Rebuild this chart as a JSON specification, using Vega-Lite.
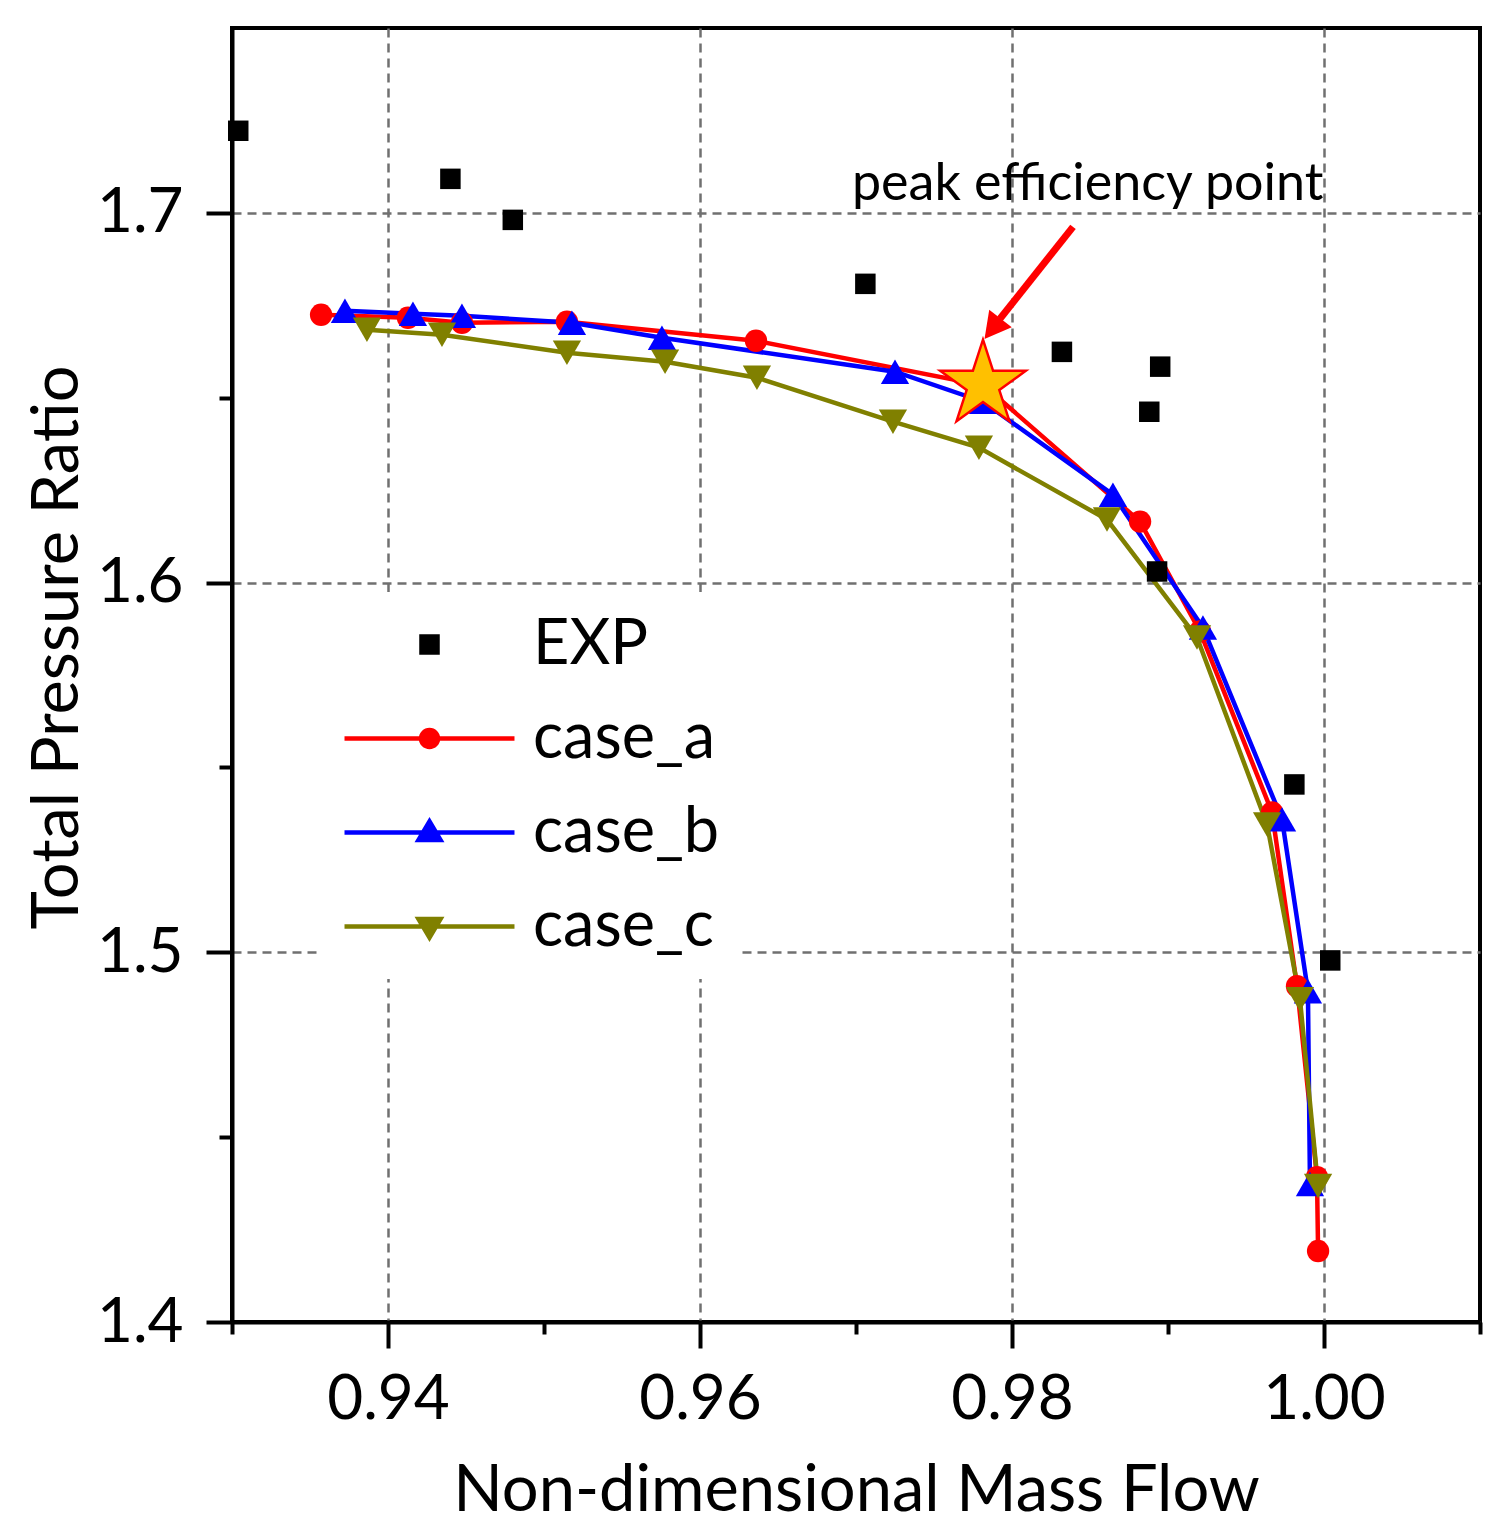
{
  "$schema": "https://vega.github.io/schema/vega-lite/v6.json",
  "width": 1248,
  "height": 1294,
  "autosize": {"type": "none"},
  "padding": {"left": 232, "top": 28, "right": 31, "bottom": 216},
  "background": "white",
  "datasets": {
    "curves": [
      {"series": "EXP", "x": 0.9304, "y": 1.7222},
      {"series": "EXP", "x": 0.944, "y": 1.7092},
      {"series": "EXP", "x": 0.948, "y": 1.6981},
      {"series": "EXP", "x": 0.9706, "y": 1.6808},
      {"series": "EXP", "x": 0.9832, "y": 1.6624},
      {"series": "EXP", "x": 0.9895, "y": 1.6584},
      {"series": "EXP", "x": 0.9888, "y": 1.6462},
      {"series": "EXP", "x": 0.9893, "y": 1.603},
      {"series": "EXP", "x": 0.9981, "y": 1.5454},
      {"series": "EXP", "x": 1.0004, "y": 1.4978},
      {"series": "case_a", "x": 0.93571, "y": 1.67243},
      {"series": "case_a", "x": 0.94128, "y": 1.67162},
      {"series": "case_a", "x": 0.94474, "y": 1.67027},
      {"series": "case_a", "x": 0.95147, "y": 1.67054},
      {"series": "case_a", "x": 0.96359, "y": 1.66541},
      {"series": "case_a", "x": 0.97821, "y": 1.6533},
      {"series": "case_a", "x": 0.98821, "y": 1.61649},
      {"series": "case_a", "x": 0.99205, "y": 1.58676},
      {"series": "case_a", "x": 0.99667, "y": 1.53784},
      {"series": "case_a", "x": 0.99827, "y": 1.49081},
      {"series": "case_a", "x": 0.99955, "y": 1.43919},
      {"series": "case_a", "x": 0.99962, "y": 1.41919},
      {"series": "case_b", "x": 0.93724, "y": 1.67351},
      {"series": "case_b", "x": 0.9416, "y": 1.6727},
      {"series": "case_b", "x": 0.94474, "y": 1.67216},
      {"series": "case_b", "x": 0.95179, "y": 1.67027},
      {"series": "case_b", "x": 0.95756, "y": 1.66622},
      {"series": "case_b", "x": 0.9725, "y": 1.65703},
      {"series": "case_b", "x": 0.97814, "y": 1.64892},
      {"series": "case_b", "x": 0.98647, "y": 1.62378},
      {"series": "case_b", "x": 0.99224, "y": 1.58784},
      {"series": "case_b", "x": 0.99731, "y": 1.53595},
      {"series": "case_b", "x": 0.99897, "y": 1.48946},
      {"series": "case_b", "x": 0.9991, "y": 1.4373},
      {"series": "case_c", "x": 0.93865, "y": 1.66838},
      {"series": "case_c", "x": 0.94346, "y": 1.66703},
      {"series": "case_c", "x": 0.95147, "y": 1.66216},
      {"series": "case_c", "x": 0.95776, "y": 1.65973},
      {"series": "case_c", "x": 0.96365, "y": 1.65541},
      {"series": "case_c", "x": 0.97237, "y": 1.64351},
      {"series": "case_c", "x": 0.97788, "y": 1.63649},
      {"series": "case_c", "x": 0.98609, "y": 1.61703},
      {"series": "case_c", "x": 0.99186, "y": 1.58514},
      {"series": "case_c", "x": 0.99635, "y": 1.53459},
      {"series": "case_c", "x": 0.99846, "y": 1.4873},
      {"series": "case_c", "x": 0.99962, "y": 1.43676}
    ]
  },
  "encoding": {
    "x": {
      "field": "x",
      "type": "quantitative",
      "scale": {"domain": [0.93, 1.01], "nice": false, "zero": false},
      "axis": {
        "title": "Non-dimensional Mass Flow",
        "values": [0.93, 0.94, 0.95, 0.96, 0.97, 0.98, 0.99, 1.0, 1.01],
        "labelExpr": "abs(datum.value*50-round(datum.value*50))<0.001 ? format(datum.value, '.2f') : ''",
        "tickSize": {"condition": {"test": "abs(datum.value*50-round(datum.value*50))<0.001", "value": 26}, "value": 12},
        "gridOpacity": {"condition": {"test": "abs(datum.value*50-round(datum.value*50))<0.001", "value": 1}, "value": 0},
        "labelPadding": 21,
        "titleBaseline": "alphabetic",
        "titleY": 188
      }
    },
    "y": {
      "field": "y",
      "type": "quantitative",
      "scale": {"domain": [1.4, 1.75], "nice": false, "zero": false},
      "axis": {
        "title": "Total Pressure Ratio",
        "values": [1.4, 1.45, 1.5, 1.55, 1.6, 1.65, 1.7],
        "labelExpr": "abs(datum.value*10-round(datum.value*10))<0.001 ? format(datum.value, '.1f') : ''",
        "tickSize": {"condition": {"test": "abs(datum.value*10-round(datum.value*10))<0.001", "value": 26}, "value": 13},
        "gridOpacity": {"condition": {"test": "abs(datum.value*10-round(datum.value*10))<0.001", "value": 1}, "value": 0},
        "labelPadding": 23,
        "titleBaseline": "alphabetic",
        "titleAngle": -90,
        "titleX": -155,
        "titleY": 619
      }
    }
  },
  "layer": [
    {
      "data": {"name": "curves"},
      "transform": [{"filter": "datum.series != 'EXP'"}],
      "mark": {
        "type": "line",
        "strokeWidth": 4.5,
        "stroke": {"expr": "datum.series === 'case_a' ? '#ff0000' : datum.series === 'case_b' ? '#0000ff' : '#808000'"}
      },
      "encoding": {"detail": {"field": "series", "type": "nominal"}}
    },
    {
      "data": {"name": "curves"},
      "mark": {
        "type": "point",
        "filled": true,
        "opacity": 1,
        "fill": {"expr": "datum.series === 'EXP' ? '#000000' : datum.series === 'case_a' ? '#ff0000' : datum.series === 'case_b' ? '#0000ff' : '#808000'"},
        "shape": {"expr": "datum.series === 'EXP' ? 'square' : datum.series === 'case_a' ? 'circle' : datum.series === 'case_b' ? 'triangle-up' : 'triangle-down'"},
        "size": {"expr": "datum.series === 'EXP' ? 420 : datum.series === 'case_a' ? 500 : 800"}
      }
    },
    {
      "data": {"name": "curves"},
      "transform": [{"filter": "false"}],
      "mark": {"type": "point", "filled": true, "opacity": 1, "size": 3600, "strokeWidth": 4.5},
      "encoding": {
        "color": {
          "field": "series",
          "type": "nominal",
          "scale": {"domain": ["EXP", "case_a", "case_b", "case_c"], "range": ["#000000", "#ff0000", "#0000ff", "#808000"]},
          "legend": {"title": null, "orient": "none", "legendX": 90, "legendY": 564, "padding": 20, "fillColor": "white", "symbolSize": 3600, "symbolStrokeWidth": 4.5, "symbolOffset": 55, "labelOffset": 71, "labelFontSize": 63, "labelColor": "black", "labelLimit": 0, "rowPadding": 29}
        },
        "stroke": {
          "field": "series",
          "type": "nominal",
          "scale": {"domain": ["EXP", "case_a", "case_b", "case_c"], "range": ["#000000", "#ff0000", "#0000ff", "#808000"]},
          "legend": {"title": null, "orient": "none", "legendX": 90, "legendY": 564, "padding": 20, "fillColor": "white", "symbolSize": 3600, "symbolStrokeWidth": 4.5, "symbolOffset": 55, "labelOffset": 71, "labelFontSize": 63, "labelColor": "black", "labelLimit": 0, "rowPadding": 29}
        },
        "shape": {
          "field": "series",
          "type": "nominal",
          "scale": {
            "domain": ["EXP", "case_a", "case_b", "case_c"],
            "range": [
              "M-0.267,-0.267L0.267,-0.267L0.267,0.267L-0.267,0.267Z",
              "M-2.833,0L2.833,0M0.283,0A0.283,0.283,0,1,1,-0.283,0A0.283,0.283,0,1,1,0.283,0Z",
              "M-2.833,0L2.833,0M0,-0.367L0.367,0.253L-0.367,0.253Z",
              "M-2.833,0L2.833,0M0,0.367L0.367,-0.253L-0.367,-0.253Z"
            ]
          },
          "legend": {"title": null, "orient": "none", "legendX": 90, "legendY": 564, "padding": 20, "fillColor": "white", "symbolSize": 3600, "symbolStrokeWidth": 4.5, "symbolOffset": 55, "labelOffset": 71, "labelFontSize": 63, "labelColor": "black", "labelLimit": 0, "rowPadding": 29}
        }
      }
    },
    {
      "data": {"values": [{"x": 0.97814, "y": 1.65351}]},
      "mark": {
        "type": "point",
        "shape": "M0,-1L0.2245,-0.309L0.951,-0.309L0.363,0.118L0.588,0.809L0,0.382L-0.588,0.809L-0.363,0.118L-0.951,-0.309L-0.2245,-0.309Z",
        "size": 8100,
        "filled": true,
        "fill": "#ffc000",
        "stroke": "#ff0000",
        "strokeWidth": 2.5,
        "opacity": 1
      }
    },
    {
      "data": {"values": [{"x": 0.98391, "y": 1.69622, "x2": 0.97923, "y2": 1.67135}]},
      "mark": {"type": "rule", "color": "#ff0000", "strokeWidth": 7},
      "encoding": {"x2": {"field": "x2"}, "y2": {"field": "y2"}}
    },
    {
      "data": {"values": [{"x": 0.97875, "y": 1.66865}]},
      "mark": {
        "type": "point",
        "shape": "M0,-0.5L0.55,0.5L-0.55,0.5Z",
        "size": 2700,
        "angle": 218,
        "filled": true,
        "fill": "#ff0000",
        "opacity": 1
      }
    },
    {
      "data": {"values": [{"x": 0.96974, "y": 1.70351, "label": "peak efficiency point"}]},
      "mark": {"type": "text", "align": "left", "baseline": "alphabetic", "fontSize": 52, "color": "black"},
      "encoding": {"text": {"field": "label"}}
    }
  ],
  "config": {
    "font": "Lato",
    "view": {"stroke": "black", "strokeWidth": 4},
    "axis": {
      "domainColor": "black",
      "domainWidth": 4,
      "tickColor": "black",
      "tickWidth": 4,
      "labelFontSize": 62,
      "labelColor": "black",
      "labelOverlap": false,
      "labelFlush": false,
      "titleFontSize": 65,
      "titleFontWeight": "normal",
      "titleColor": "black",
      "grid": true,
      "gridColor": "#707070",
      "gridDash": [9, 6],
      "gridWidth": 2.5
    },
    "legend": {"labelFont": "Lato"}
  }
}
